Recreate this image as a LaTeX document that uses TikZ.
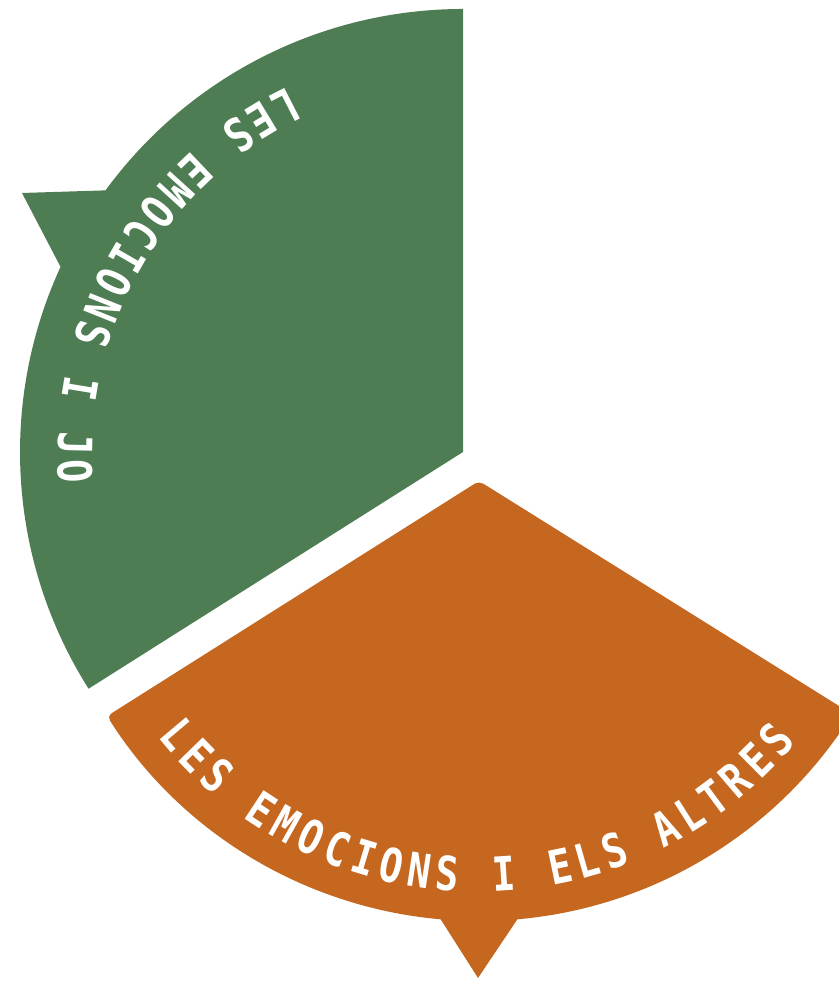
\documentclass[tikz,border=0pt]{standalone}
\usepackage{fontspec}
\usepackage{tikz}
\usetikzlibrary{decorations.text}
\newfontfamily\wheelfont{DejaVu Sans Mono Bold}[FakeStretch=0.82]
\definecolor{JoGreen}{HTML}{4E7D53}
\definecolor{AltresOrange}{HTML}{C5671F}
\pgfmathsetmacro{\rjo}{443}
\pgfmathsetmacro{\raltres}{440}

\begin{document}
\begin{tikzpicture}[x=1pt, y=1pt]
		\useasboundingbox (0, 0) rectangle (838, 981);
		% The sector "Les emocions i jo", with its pointer on the left
		\begin{scope}[shift={(463, 529)}]
			\fill [JoGreen] (0, 0) -- (90:\rjo) arc [start angle=90, end angle=143.8, radius=\rjo] -- (-441, 259) -- (155.3:\rjo) arc [start angle=155.3, end angle=212.3, radius=\rjo] -- cycle;
			\path [decorate, decoration={text along path, text color=white, text align={fit to path}, text={|\wheelfont\fontsize{47}{47}\selectfont|LES EMOCIONS I JO}}] (115.5:405) arc [start angle=115.5, end angle=184.5, radius=405];
		\end{scope}
		% The sector "Les emocions i els altres", with its pointer at the bottom
		\begin{scope}[shift={(479, 500)}]
			\fill [AltresOrange] (212.3:\raltres) arc [start angle=212.3, end angle=265, radius=\raltres] -- (-1, -497) -- (275:\raltres) arc [start angle=275, end angle=328, radius=\raltres] [rounded corners=5] -- (0, 0) -- cycle;
			\path [decorate, decoration={text along path, text color=white, text align={fit to path}, text={|\wheelfont\fontsize{47}{47}\selectfont|LES EMOCIONS I ELS ALTRES}}] (218.5:411) arc [start angle=218.5, end angle=320.5, radius=411];
		\end{scope}
	\end{tikzpicture}
\end{document}
